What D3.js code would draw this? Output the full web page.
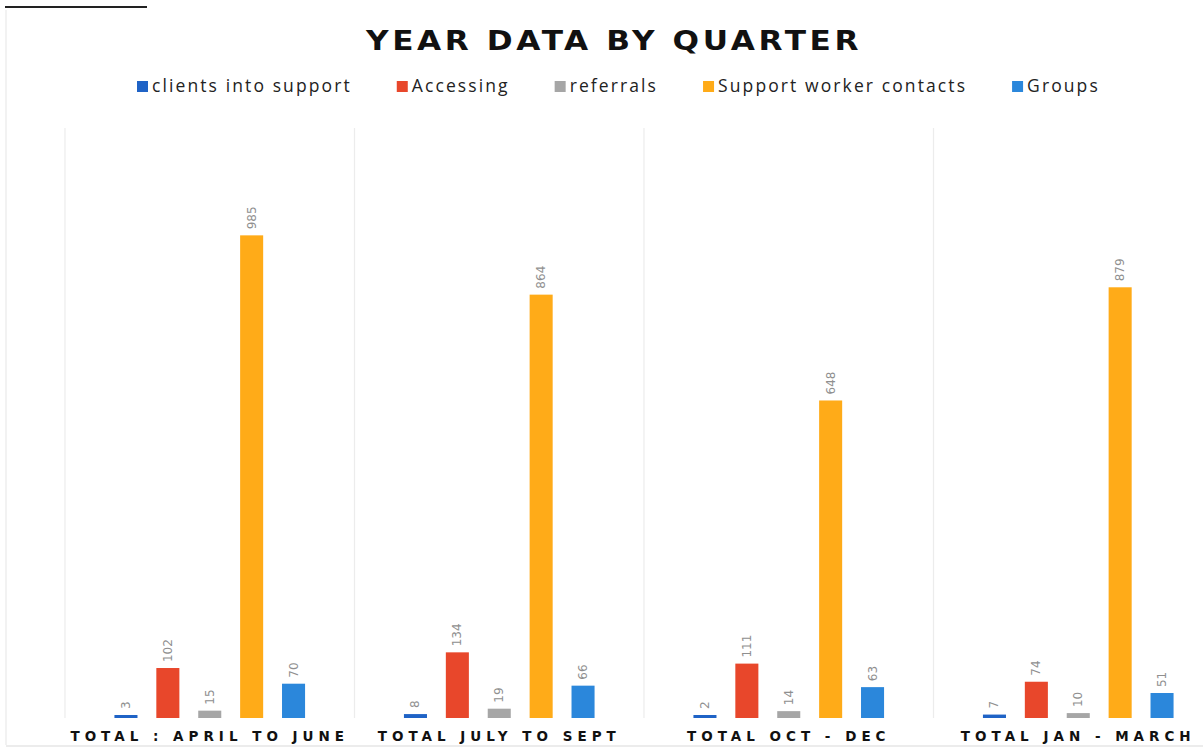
<!DOCTYPE html>
<html><head><meta charset="utf-8">
<script src="https://cdn.jsdelivr.net/npm/d3@7"></script>
<style>
html,body{margin:0;padding:0;background:#fff;}
svg{display:block;}
</style></head>
<body>
<script>
const categories = ["TOTAL : APRIL TO JUNE", "TOTAL JULY TO SEPT", "TOTAL OCT - DEC", "TOTAL JAN - MARCH"];
const seriesNames = ["clients into support", "Accessing", "referrals", "Support worker contacts", "Groups"];
const clientsIntoSupport = [3, 8, 2, 7];
const accessing = [102, 134, 111, 74];
const referrals = [15, 19, 14, 10];
const supportWorkerContacts = [985, 864, 648, 879];
const groups = [70, 66, 63, 51];
const seriesValues = [clientsIntoSupport, accessing, referrals, supportWorkerContacts, groups];
const colors = ["#1f63c6", "#e8472b", "#a6a6a6", "#ffab18", "#2b87db"];

const W = 1203, H = 749;
const svg = d3.select("body").append("svg").attr("width", W).attr("height", H);

// frame artifacts
svg.append("line").attr("x1", 5).attr("x2", 147).attr("y1", 7).attr("y2", 7)
  .attr("stroke", "#222").attr("stroke-width", 2);
svg.append("line").attr("x1", 6).attr("x2", 6).attr("y1", 10).attr("y2", 745)
  .attr("stroke", "#eeeeee").attr("stroke-width", 1.5);
svg.append("line").attr("x1", 6).attr("x2", W).attr("y1", 746).attr("y2", 746)
  .attr("stroke", "#e6e6e6").attr("stroke-width", 1.5);

const x0 = d3.scaleBand().domain(categories).range([65, 1223]).padding(0);
const x1 = d3.scaleBand().domain(seriesNames).range([0, x0.bandwidth()])
  .paddingInner(0.45).paddingOuter(1.18);
const y = d3.scaleLinear().domain([0, 1200]).range([718, 130]);

// vertical gridlines at band boundaries
const bounds = categories.map(c => x0(c));
svg.append("g").selectAll("line").data(bounds).join("line")
  .attr("x1", d => d).attr("x2", d => d)
  .attr("y1", 128).attr("y2", 718)
  .attr("stroke", "#ececec").attr("stroke-width", 1.2);

// title
svg.append("text")
  .attr("transform", "translate(614,50) scale(1.2,1)")
  .attr("text-anchor", "middle")
  .attr("font-family", "DejaVu Sans").attr("font-weight", "bold")
  .attr("font-size", 26).attr("letter-spacing", 3).attr("fill", "#111")
  .text("YEAR DATA BY QUARTER");

// legend
const legend = svg.append("g");
let lx = 137;
seriesNames.forEach((name, i) => {
  const g = legend.append("g").attr("transform", `translate(${lx},0)`);
  g.append("rect").attr("x", 0).attr("y", 81).attr("width", 11).attr("height", 11).attr("fill", colors[i]);
  const t = g.append("text").attr("x", 15).attr("y", 92)
    .attr("font-family", "Open Sans").attr("font-size", 17.5).attr("letter-spacing", 2.1)
    .attr("fill", "#222").text(name);
  lx += 15 + t.node().getComputedTextLength() + 45;
});

// bars
const groupsG = svg.append("g").selectAll("g").data(categories).join("g")
  .attr("transform", d => `translate(${x0(d)},0)`);

groupsG.each(function(cat, ci) {
  const g = d3.select(this);
  const data = seriesNames.map((s, si) => ({ s, si, v: seriesValues[si][ci] }));
  g.selectAll("rect").data(data).join("rect")
    .attr("x", d => x1(d.s))
    .attr("y", d => Math.min(y(d.v), y(0) - 3))
    .attr("width", x1.bandwidth())
    .attr("height", d => Math.max(y(0) - y(d.v), 3))
    .attr("fill", d => colors[d.si]);
  g.selectAll("text").data(data).join("text")
    .attr("transform", d => `translate(${x1(d.s) + x1.bandwidth() / 2 + 4},${Math.min(y(d.v), y(0) - 3) - 6}) rotate(-90)`)
    .attr("font-family", "DejaVu Sans").attr("font-size", 12)
    .attr("fill", "#8f8f8f")
    .text(d => d.v);
});

// x labels
svg.append("g").selectAll("text").data(categories).join("text")
  .attr("x", d => x0(d) + x0.bandwidth() / 2)
  .attr("y", 741)
  .attr("text-anchor", "middle")
  .attr("font-family", "DejaVu Sans").attr("font-weight", "bold").attr("font-size", 13.5)
  .attr("letter-spacing", 5).attr("fill", "#111")
  .text(d => d);
</script>
</body></html>
